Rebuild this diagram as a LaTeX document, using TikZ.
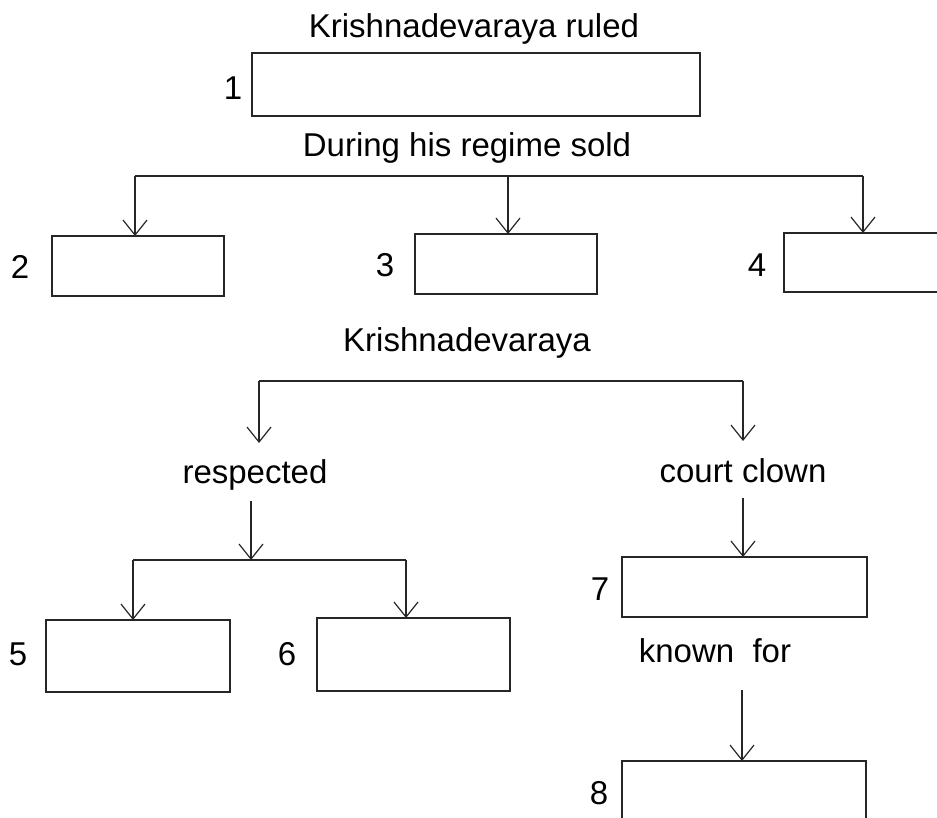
\documentclass[tikz,border=0pt]{standalone}
\usepackage{fontspec}
\setmainfont{Liberation Sans}
\usetikzlibrary{arrows.meta}
\definecolor{linec}{gray}{0.15}
\begin{document}
\begin{tikzpicture}[x=1pt,y=-1pt,
  every node/.style={font=\fontsize{33}{40}\selectfont, inner sep=0pt, outer sep=0pt},
  boxn/.style={draw=linec, line width=1.2pt, rectangle},
  txt/.style={anchor=base},
  con/.style={draw=linec, line width=1.2pt},
  arr/.style={draw=linec, line width=1.2pt, -{Straight Barb[length=15pt,width=24pt]}}]
\path[use as bounding box] (0,0) rectangle (937,818);
\clip (0,0) rectangle (937,818);

% texts
\node[txt] (t1) at (474,38) {Krishnadevaraya ruled};
\node[txt] (t2) at (467,157) {During his regime sold};
\node[txt] (t3) at (467,352) {Krishnadevaraya};
\node[txt] (t4) at (255,483) {respected};
\node[txt] (t5) at (743,482) {court clown};
\node[txt] (t6) at (715,662) {known\ \ for};

% boxes
\node[boxn, minimum width=448pt, minimum height=63pt] (box1) at (476,84.5) {};
\node[boxn, minimum width=172pt, minimum height=60pt] (box2) at (138,266) {};
\node[boxn, minimum width=182pt, minimum height=60pt] (box3) at (506,264) {};
\node[boxn, minimum width=176pt, minimum height=59pt] (box4) at (872,262.5) {};
\node[boxn, minimum width=184pt, minimum height=72pt] (box5) at (138,656) {};
\node[boxn, minimum width=193pt, minimum height=73pt] (box6) at (413.5,654.5) {};
\node[boxn, minimum width=245pt, minimum height=60pt] (box7) at (744.5,587) {};
\node[boxn, minimum width=244pt, minimum height=62pt] (box8) at (744,792) {};

% numbers
\node (n1) at (233,88) {1};
\node (n2) at (20,267) {2};
\node (n3) at (385,265) {3};
\node (n4) at (757,265) {4};
\node (n5) at (18,654) {5};
\node (n6) at (287,654) {6};
\node (n7) at (600,589) {7};
\node (n8) at (599,793) {8};

% first branch
\coordinate (a1) at (135,176);
\coordinate (a2) at (508,176);
\coordinate (a3) at (863,176);
\draw[con] (a1) -- (a3);
\draw[arr] (a1) -- (a1 |- box2.north);
\draw[arr] (a2) -- (a2 |- box3.north);
\draw[arr] (a3) -- (a3 |- box4.north);

% second branch
\coordinate (b1) at (259,381);
\coordinate (b2) at (743,381);
\coordinate (b1e) at (259,443);
\coordinate (b2e) at (743,441);
\draw[con] (b1) -- (b2);
\draw[arr] (b1) -- (b1e);
\draw[arr] (b2) -- (b2e);

% respected branch
\coordinate (c0) at (251,501);
\coordinate (c1) at (133,560);
\coordinate (cm) at (251,560);
\coordinate (c2) at (406,560);
\draw[arr] (c0) -- (cm);
\draw[con] (c1) -- (c2);
\draw[arr] (c1) -- (c1 |- box5.north);
\draw[arr] (c2) -- (c2 |- box6.north);

% court clown branch
\coordinate (d0) at (743,498);
\draw[arr] (d0) -- (d0 |- box7.north);
\coordinate (e0) at (742,690);
\draw[arr] (e0) -- (e0 |- box8.north);
\end{tikzpicture}
\end{document}
